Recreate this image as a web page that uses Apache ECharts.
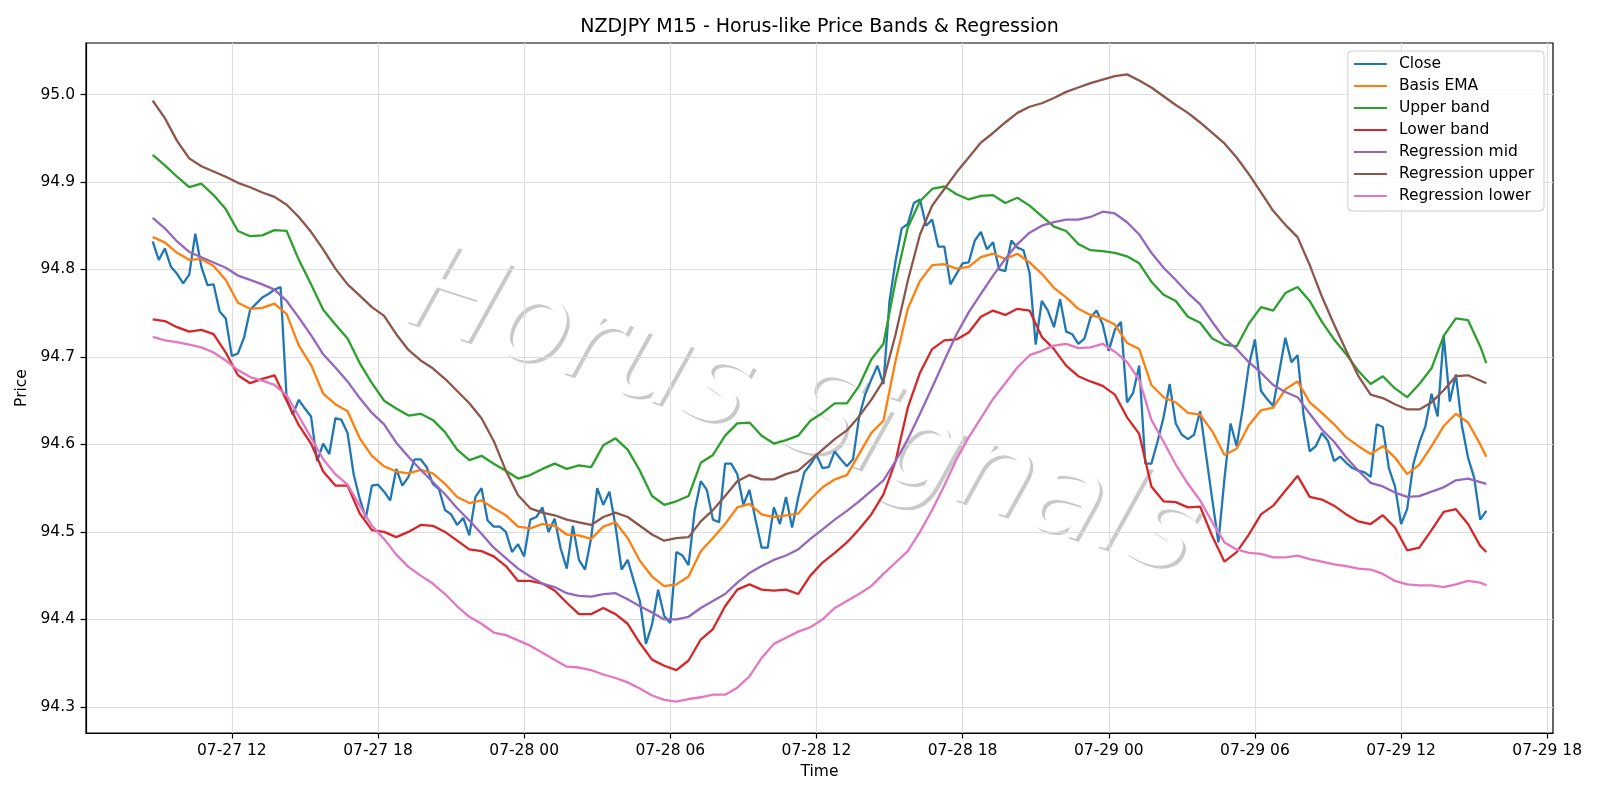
<!DOCTYPE html>
<html>
<head>
<meta charset="utf-8">
<title>NZDJPY M15 - Horus-like Price Bands & Regression</title>
<script src="https://cdn.jsdelivr.net/npm/echarts@6/dist/echarts.min.js"></script>
<style>
  html, body { margin: 0; padding: 0; background: #fff; }
  #chart { width: 1600px; height: 800px; }
</style>
</head>
<body>
<div id="chart"></div>
<script>
// M15 bars, first bar 07-27 08:45, last bar 07-29 15:30
var barStart = Date.UTC(2025, 6, 27, 8, 45);
var barStep = 15 * 60 * 1000;

var closeVals = [
  94.832, 94.811, 94.824, 94.803, 94.795, 94.784, 94.794, 94.841, 94.803, 94.782,
  94.783, 94.752, 94.744, 94.701, 94.704, 94.722, 94.754, 94.761, 94.768, 94.772,
  94.777, 94.780, 94.652, 94.634, 94.651, 94.641, 94.632, 94.581, 94.601, 94.589,
  94.630, 94.628, 94.613, 94.566, 94.538, 94.516, 94.553, 94.554, 94.546, 94.536,
  94.572, 94.553, 94.563, 94.583, 94.583, 94.574, 94.555, 94.549, 94.525, 94.520,
  94.508, 94.516, 94.496, 94.540, 94.550, 94.513, 94.506, 94.506, 94.500, 94.477,
  94.486, 94.472, 94.514, 94.517, 94.528, 94.500, 94.515, 94.481, 94.458, 94.507,
  94.468, 94.457, 94.493, 94.550, 94.531, 94.546, 94.507, 94.457, 94.468, 94.444,
  94.421, 94.372, 94.394, 94.434, 94.404, 94.396, 94.477, 94.473, 94.462, 94.524,
  94.558, 94.548, 94.514, 94.511, 94.578, 94.578, 94.566, 94.531, 94.548, 94.514,
  94.482, 94.482, 94.528, 94.509, 94.540, 94.505, 94.539, 94.568, 94.577, 94.588,
  94.573, 94.574, 94.592, 94.583, 94.575, 94.583, 94.631, 94.657, 94.674, 94.690,
  94.669, 94.764, 94.810, 94.847, 94.852, 94.876, 94.880, 94.850, 94.857, 94.826,
  94.826, 94.783, 94.795, 94.807, 94.808, 94.833, 94.843, 94.823, 94.831, 94.800,
  94.798, 94.833, 94.825, 94.822, 94.796, 94.714, 94.764, 94.753, 94.734, 94.766,
  94.729, 94.726, 94.715, 94.721, 94.745, 94.753, 94.737, 94.707, 94.731, 94.740,
  94.648, 94.659, 94.690, 94.578, 94.578, 94.603, 94.631, 94.669, 94.624, 94.611,
  94.606, 94.611, 94.638, 94.587, 94.537, 94.488, 94.561, 94.624, 94.598, 94.641,
  94.690, 94.720, 94.661, 94.652, 94.644, 94.683, 94.722, 94.694, 94.702, 94.633,
  94.592, 94.598, 94.613, 94.604, 94.581, 94.586, 94.579, 94.573, 94.570, 94.568,
  94.563, 94.623, 94.620, 94.573, 94.552, 94.509, 94.526, 94.577, 94.602, 94.621,
  94.658, 94.632, 94.724, 94.649, 94.680, 94.621, 94.585, 94.562, 94.514, 94.524
];

// indicator lines: read at every second bar (0, 2, ... 218) and the last bar 219
var emaVals = [
  94.837, 94.831, 94.819, 94.811, 94.812, 94.804, 94.788, 94.762, 94.755, 94.756,
  94.761, 94.749, 94.713, 94.691, 94.658, 94.646, 94.638, 94.607, 94.587, 94.575,
  94.569, 94.567, 94.571, 94.567, 94.555, 94.540, 94.533, 94.536, 94.527, 94.519,
  94.506, 94.504, 94.509, 94.507, 94.497, 94.496, 94.492, 94.506, 94.511, 94.493,
  94.467, 94.449, 94.438, 94.440, 94.449, 94.478, 94.493, 94.509, 94.528, 94.532,
  94.520, 94.517, 94.519, 94.521, 94.537, 94.551, 94.560, 94.565, 94.589, 94.613,
  94.627, 94.696, 94.755, 94.787, 94.805, 94.806, 94.801, 94.803, 94.814, 94.818,
  94.812, 94.818, 94.808, 94.795, 94.779, 94.768, 94.755, 94.748, 94.744, 94.737,
  94.716, 94.709, 94.668, 94.654, 94.648, 94.636, 94.634, 94.615, 94.588, 94.595,
  94.622, 94.639, 94.642, 94.663, 94.672, 94.648, 94.636, 94.623, 94.608, 94.598,
  94.589, 94.598, 94.585, 94.566, 94.577, 94.598, 94.621, 94.635, 94.625, 94.600,
  94.586
];
var upperVals = [
  94.931, 94.919, 94.906, 94.894, 94.898, 94.885, 94.869, 94.844, 94.838, 94.839,
  94.845, 94.844, 94.811, 94.783, 94.754, 94.737, 94.721, 94.693, 94.670, 94.650,
  94.641, 94.633, 94.635, 94.628, 94.614, 94.594, 94.582, 94.587, 94.578, 94.570,
  94.561, 94.565, 94.572, 94.578, 94.572, 94.576, 94.574, 94.599, 94.607, 94.594,
  94.570, 94.541, 94.531, 94.535, 94.541, 94.579, 94.588, 94.610, 94.624, 94.625,
  94.610, 94.601, 94.605, 94.610, 94.627, 94.636, 94.647, 94.647, 94.667, 94.697,
  94.715, 94.787, 94.848, 94.878, 94.892, 94.895, 94.886, 94.880, 94.884, 94.885,
  94.876, 94.882, 94.873, 94.861, 94.849, 94.844, 94.829, 94.822, 94.821, 94.819,
  94.815, 94.807, 94.786, 94.771, 94.764, 94.746, 94.739, 94.721, 94.714, 94.712,
  94.738, 94.757, 94.753, 94.773, 94.780, 94.764, 94.740, 94.720, 94.703, 94.684,
  94.669, 94.678, 94.664, 94.654, 94.669, 94.687, 94.724, 94.744, 94.742, 94.712,
  94.693
];
var lowerVals = [
  94.743, 94.741, 94.734, 94.729, 94.731, 94.726, 94.705, 94.679, 94.670, 94.675,
  94.679, 94.650, 94.622, 94.601, 94.569, 94.553, 94.553, 94.521, 94.502, 94.500,
  94.494, 94.500, 94.508, 94.507, 94.500, 94.490, 94.480, 94.478, 94.472, 94.461,
  94.444, 94.444, 94.441, 94.433, 94.419, 94.406, 94.406, 94.413, 94.406, 94.395,
  94.373, 94.354, 94.347, 94.342, 94.353, 94.377, 94.389, 94.415, 94.434, 94.440,
  94.434, 94.433, 94.434, 94.429, 94.450, 94.465, 94.476, 94.488, 94.503, 94.520,
  94.543, 94.581, 94.642, 94.682, 94.709, 94.719, 94.720, 94.728, 94.746, 94.753,
  94.748, 94.755, 94.753, 94.723, 94.709, 94.690, 94.678, 94.672, 94.667, 94.657,
  94.631, 94.612, 94.552, 94.535, 94.534, 94.528, 94.529, 94.495, 94.466, 94.477,
  94.497, 94.520, 94.530, 94.547, 94.564, 94.540, 94.537, 94.530, 94.520, 94.512,
  94.509, 94.519, 94.505, 94.479, 94.482, 94.502, 94.523, 94.526, 94.509, 94.484,
  94.477
];
var regMidVals = [
  94.859, 94.847, 94.832, 94.820, 94.814, 94.808, 94.802, 94.793, 94.788, 94.783,
  94.777, 94.764, 94.745, 94.725, 94.703, 94.688, 94.672, 94.653, 94.636, 94.623,
  94.602, 94.586, 94.571, 94.557, 94.543, 94.527, 94.513, 94.498, 94.482, 94.470,
  94.458, 94.449, 94.441, 94.437, 94.430, 94.427, 94.426, 94.429, 94.430, 94.423,
  94.415, 94.408, 94.400, 94.400, 94.403, 94.413, 94.421, 94.429, 94.442, 94.453,
  94.461, 94.468, 94.473, 94.480, 94.492, 94.503, 94.514, 94.524, 94.535, 94.547,
  94.559, 94.581, 94.606, 94.635, 94.665, 94.696, 94.726, 94.751, 94.772, 94.793,
  94.812, 94.829, 94.842, 94.850, 94.854, 94.857, 94.857, 94.860, 94.866, 94.864,
  94.854, 94.840, 94.819, 94.802, 94.788, 94.773, 94.760, 94.740, 94.721, 94.709,
  94.694, 94.682, 94.668, 94.660, 94.654, 94.635, 94.617, 94.603, 94.585, 94.570,
  94.556, 94.552, 94.545, 94.540, 94.541, 94.546, 94.551, 94.559, 94.561, 94.557,
  94.555
];
var regUpVals = [
  94.993, 94.973, 94.947, 94.927, 94.918, 94.912, 94.906, 94.899, 94.894, 94.888,
  94.883, 94.874, 94.860, 94.843, 94.823, 94.801, 94.783, 94.770, 94.757, 94.747,
  94.726, 94.708, 94.696, 94.687, 94.675, 94.661, 94.647, 94.630, 94.604, 94.570,
  94.542, 94.527, 94.522, 94.519, 94.514, 94.511, 94.508, 94.517, 94.522, 94.517,
  94.507, 94.497, 94.490, 94.493, 94.494, 94.512, 94.525, 94.541, 94.558, 94.565,
  94.560, 94.560, 94.566, 94.570, 94.582, 94.594, 94.606, 94.616, 94.632, 94.651,
  94.673, 94.726, 94.787, 94.840, 94.873, 94.892, 94.911, 94.928, 94.945, 94.956,
  94.968, 94.979, 94.986, 94.990, 94.996, 95.003, 95.008, 95.013, 95.017, 95.021,
  95.023, 95.016, 95.008, 94.998, 94.988, 94.979, 94.968, 94.956, 94.944, 94.928,
  94.909, 94.888, 94.867, 94.851, 94.837, 94.805, 94.769, 94.737, 94.707, 94.678,
  94.657, 94.653, 94.646, 94.640, 94.640, 94.648, 94.662, 94.678, 94.679, 94.673,
  94.670
];
var regLowVals = [
  94.723, 94.719, 94.717, 94.714, 94.711, 94.705, 94.696, 94.685, 94.677, 94.673,
  94.668, 94.656, 94.632, 94.608, 94.583, 94.566, 94.554, 94.530, 94.507, 94.492,
  94.474, 94.460, 94.450, 94.441, 94.429, 94.415, 94.403, 94.395, 94.385, 94.382,
  94.376, 94.370, 94.362, 94.354, 94.346, 94.345, 94.342, 94.337, 94.333, 94.328,
  94.321, 94.313, 94.308, 94.306, 94.309, 94.311, 94.314, 94.314, 94.322, 94.335,
  94.356, 94.372, 94.379, 94.386, 94.391, 94.400, 94.413, 94.421, 94.429, 94.438,
  94.452, 94.465, 94.478, 94.500, 94.525, 94.553, 94.583, 94.608, 94.630, 94.652,
  94.670, 94.688, 94.702, 94.707, 94.713, 94.715, 94.710, 94.711, 94.715, 94.706,
  94.694, 94.674, 94.628, 94.603, 94.577, 94.555, 94.536, 94.511, 94.488, 94.480,
  94.476, 94.475, 94.471, 94.471, 94.473, 94.469, 94.466, 94.463, 94.461, 94.458,
  94.457, 94.452, 94.444, 94.440, 94.439, 94.439, 94.437, 94.440, 94.444, 94.442,
  94.439
];

var xTickLabels = ['07-27 12', '07-27 18', '07-28 00', '07-28 06', '07-28 12',
                   '07-28 18', '07-29 00', '07-29 06', '07-29 12', '07-29 18'];
var yTicks = [94.3, 94.4, 94.5, 94.6, 94.7, 94.8, 94.9, 95.0];

var seriesNames = ['Close', 'Basis EMA', 'Upper band', 'Lower band',
                   'Regression mid', 'Regression upper', 'Regression lower'];
var seriesColors = ['#1f77b4', '#ff7f0e', '#2ca02c', '#d62728', '#9467bd', '#8c564b', '#e377c2'];

var closeIdx = closeVals.map(function (v, i) { return i; });
var bandIdx = [];
for (var k = 0; k <= 218; k += 2) bandIdx.push(k);
bandIdx.push(219);

function toPairs(idx, vals) {
  return vals.map(function (v, n) { return [barStart + idx[n] * barStep, v]; });
}
function parseTick(s) {
  // 'MM-DD HH'
  return Date.UTC(2025, parseInt(s.slice(0, 2), 10) - 1, parseInt(s.slice(3, 5), 10), parseInt(s.slice(6, 8), 10));
}
function pad2(n) { return (n < 10 ? '0' : '') + n; }

var allData = [
  toPairs(closeIdx, closeVals),
  toPairs(bandIdx, emaVals),
  toPairs(bandIdx, upperVals),
  toPairs(bandIdx, lowerVals),
  toPairs(bandIdx, regMidVals),
  toPairs(bandIdx, regUpVals),
  toPairs(bandIdx, regLowVals)
];

// matplotlib style 5% margins
var tFirst = barStart, tLast = barStart + 219 * barStep;
var xPad = (tLast - tFirst) * 0.05;
var allVals = [].concat(closeVals, emaVals, upperVals, lowerVals, regMidVals, regUpVals, regLowVals);
var yLo = Math.min.apply(null, allVals), yHi = Math.max.apply(null, allVals);
var yPad = (yHi - yLo) * 0.05;

var xTickTimes = xTickLabels.map(parseTick);
var font = 'DejaVu Sans';

var chart = echarts.init(document.getElementById('chart'), null, { renderer: 'canvas' });
chart.setOption({
  animation: false,
  backgroundColor: '#fff',
  title: {
    text: 'NZDJPY M15 - Horus-like Price Bands & Regression',
    left: 814.5,
    top: 13,
    textAlign: 'center',
    textStyle: { fontFamily: font, fontSize: 19, fontWeight: 'normal', color: '#000' }
  },
  legend: {
    orient: 'vertical',
    right: 56,
    top: 51,
    icon: 'rect',
    itemWidth: 33,
    itemHeight: 2,
    itemGap: 6,
    padding: [5, 10, 7, 6],
    backgroundColor: 'rgba(255,255,255,0.8)',
    borderColor: '#cccccc',
    borderWidth: 1,
    borderRadius: 4,
    textStyle: { fontFamily: font, fontSize: 15.5, color: '#000', padding: [0, 0, 0, 7] },
    data: seriesNames
  },
  grid: {
    left: 86, right: 47, top: 43, bottom: 67,
    show: true, borderColor: '#000', borderWidth: 1.2, backgroundColor: 'transparent'
  },
  graphic: [{
    type: 'text',
    z: -10,
    silent: true,
    x: 802,
    y: 417,
    rotation: -18 * Math.PI / 180,
    style: {
      text: 'Horus Signals',
      fontFamily: font,
      fontSize: 120,
      fontStyle: 'italic',
      fill: '#ffffff',
      align: 'center',
      verticalAlign: 'middle',
      textShadowColor: 'rgba(77,77,77,0.3)',
      textShadowBlur: 0.5,
      textShadowOffsetX: 3,
      textShadowOffsetY: 3
    }
  }],
  xAxis: {
    type: 'value',
    min: tFirst - xPad,
    max: tLast + xPad,
    name: 'Time',
    nameLocation: 'middle',
    nameGap: 30,
    nameTextStyle: { fontFamily: font, fontSize: 15.5, color: '#000' },
    axisLine: { show: true, onZero: false, lineStyle: { color: '#000', width: 1.2 } },
    axisTick: { show: true, length: 5.5, lineStyle: { color: '#000', width: 1.2 }, customValues: xTickTimes },
    axisLabel: {
      customValues: xTickTimes,
      margin: 10,
      fontFamily: font, fontSize: 15.5, color: '#000',
      formatter: function (v) {
        var d = new Date(v);
        return pad2(d.getUTCMonth() + 1) + '-' + pad2(d.getUTCDate()) + ' ' + pad2(d.getUTCHours());
      }
    },
    splitLine: { show: true, lineStyle: { color: '#dedede', width: 1.2 } }
  },
  yAxis: {
    type: 'value',
    min: yLo - yPad,
    max: yHi + yPad,
    name: 'Price',
    nameLocation: 'middle',
    nameGap: 50,
    nameTextStyle: { fontFamily: font, fontSize: 15.5, color: '#000' },
    axisLine: { show: true, onZero: false, lineStyle: { color: '#000', width: 1.2 } },
    axisTick: { show: true, length: 5.5, lineStyle: { color: '#000', width: 1.2 }, customValues: yTicks },
    axisLabel: {
      customValues: yTicks,
      margin: 11,
      fontFamily: font, fontSize: 15.5, color: '#000',
      formatter: function (v) { return v.toFixed(1); }
    },
    splitLine: { show: true, lineStyle: { color: '#dedede', width: 1.2 } }
  },
  series: seriesNames.map(function (name, s) {
    return {
      name: name,
      type: 'line',
      data: allData[s],
      symbol: 'none',
      showSymbol: false,
      color: seriesColors[s],
      lineStyle: { width: 2.3, color: seriesColors[s] },
      itemStyle: { color: seriesColors[s] },
      z: 2 + s * 0.01
    };
  })
});
</script>
</body>
</html>
